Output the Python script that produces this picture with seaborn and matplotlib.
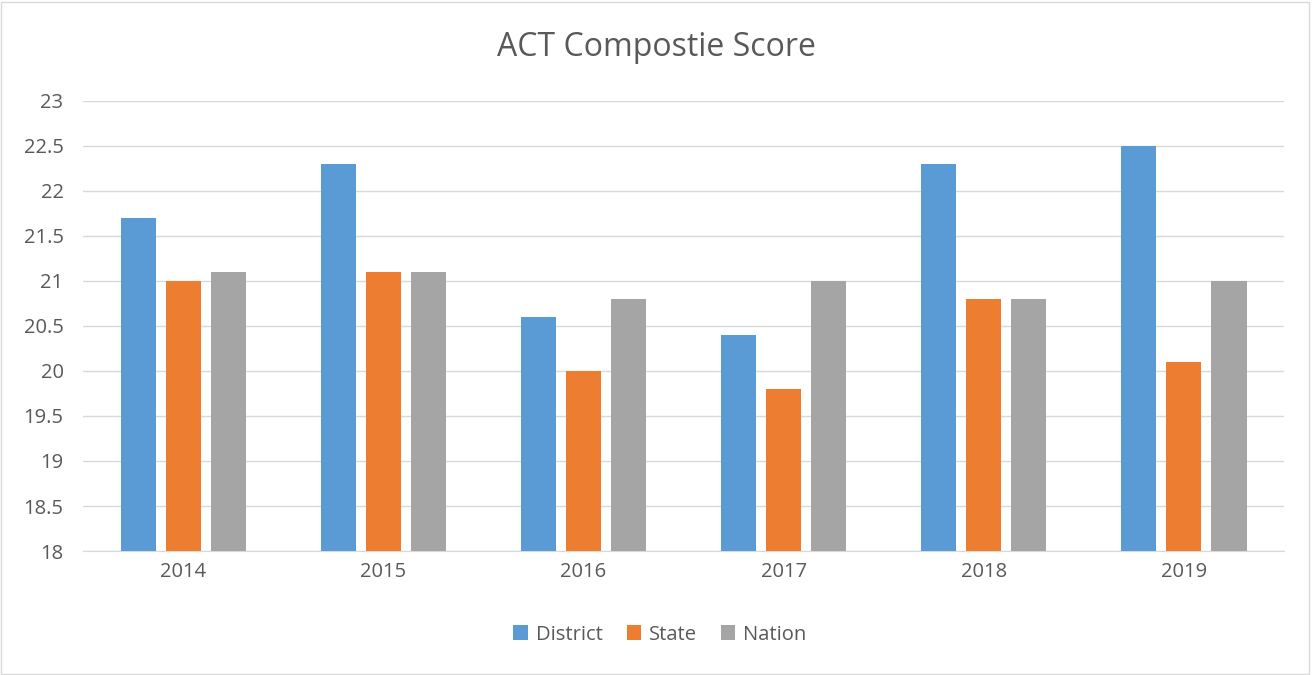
import matplotlib
matplotlib.use('Agg')
import matplotlib.pyplot as plt
import seaborn as sns
import pandas as pd
from matplotlib.patches import Rectangle

years = ['2014', '2015', '2016', '2017', '2018', '2019']
district = [21.7, 22.3, 20.6, 20.4, 22.3, 22.5]
state = [21.0, 21.1, 20.0, 19.8, 20.8, 20.1]
nation = [21.1, 21.1, 20.8, 21.0, 20.8, 21.0]
series = ['District', 'State', 'Nation']
colors = ['#5B9BD5', '#ED7D31', '#A5A5A5']

data = pd.DataFrame({'Year': years * 3,
                     'Score': district + state + nation,
                     'Series': [s for s in series for _ in years]})

sns.set_style('white')
plt.rcParams['font.family'] = ['Open Sans', 'DejaVu Sans']

fig = plt.figure(figsize=(13.12, 6.75), dpi=100)
ax = fig.add_axes([0.0633, 0.1837, 0.9154, 0.6667])

sns.barplot(data=data, x='Year', y='Score', hue='Series', palette=colors,
            width=0.675, gap=0.222, saturation=1, linewidth=0, ax=ax, zorder=3)

ax.set_ylim(18, 23)
ticks = [18 + 0.5 * i for i in range(11)]
ax.set_yticks(ticks)
ax.set_yticklabels([f'{t:g}' for t in ticks])
ax.yaxis.grid(True, color='#D9D9D9', linewidth=1, zorder=0)
ax.set_axisbelow(True)
ax.set_xlabel('')
ax.set_ylabel('')
for side in ['top', 'right', 'left']:
    ax.spines[side].set_visible(False)
ax.spines['bottom'].set_color('#D9D9D9')
ax.tick_params(axis='both', length=0, labelsize=14.5, colors='#595959', pad=8)
ax.tick_params(axis='y', pad=14)

fig.text(0.5, 0.93, 'ACT Compostie Score', fontsize=23, color='#595959',
         ha='center', va='center')

handles, labels = ax.get_legend_handles_labels()
ax.legend(handles, labels, loc='center', bbox_to_anchor=(0.503, 0.06),
          bbox_transform=fig.transFigure, ncol=3, frameon=False,
          fontsize=14.5, labelcolor='#595959', handlelength=0.7, handleheight=0.7,
          handletextpad=0.4, columnspacing=1.2)

fig.patches.append(Rectangle((0.001, 0.002), 0.997, 0.995, transform=fig.transFigure,
                             fill=False, edgecolor='#D9D9D9', linewidth=1))

fig.savefig('out.png', dpi=100, facecolor='white')
